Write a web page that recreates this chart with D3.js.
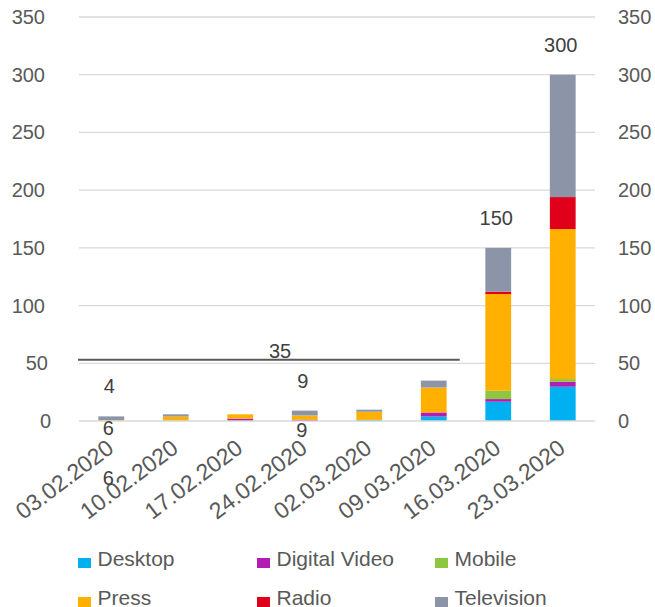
<!DOCTYPE html>
<html>
<head>
<meta charset="utf-8">
<script src="https://cdn.jsdelivr.net/npm/d3@7"></script>
<style>
  html, body { margin: 0; padding: 0; background: #ffffff; }
  svg { display: block; font-family: "Liberation Sans", Arial, sans-serif; }
</style>
</head>
<body>
<svg id="chart" width="655" height="607"></svg>
<script>
// Weekly categories
const categories = ["03.02.2020", "10.02.2020", "17.02.2020", "24.02.2020",
                    "02.03.2020", "09.03.2020", "16.03.2020", "23.03.2020"];

// Stacked series values (bottom to top)
const desktop      = [0,   0,   0,   0,   1,   3.9,  16.7, 29.7];
const digitalVideo = [0,   0,   2,   1.2, 0,   3.5,  2.3,  4.3];
const mobile       = [0,   0,   0,   0,   0,   0,    7.2,  2.3];
const press        = [0.8, 3.9, 3.8, 3.6, 7,   21.6, 83.8, 130];
const radio        = [0,   0,   0,   0,   0,   0,    2,    27.7];
const television   = [3.2, 1.9, 0,   4.2, 1.8, 6,    38,   106];

const seriesNames  = ["Desktop", "Digital Video", "Mobile", "Press", "Radio", "Television"];
const seriesColors = ["#00b0f0", "#b21eb4", "#8dc63f", "#ffb000", "#e0001b", "#8c95a8"];

// Total labels shown above selected bars
const totalLabels = [4, null, null, 9, null, 35, 150, 300];

// Value axis ticks
const yTicks = [0, 50, 100, 150, 200, 250, 300, 350];

// Horizontal marker line value
const markerValue = 53;

const svg = d3.select("#chart");
const plotLeft = 79, plotRight = 595, plotTop = 17, plotBottom = 421;

const x = d3.scaleBand().domain(categories).range([plotLeft, plotRight])
  .paddingInner(0.6).paddingOuter(0.3);
const y = d3.scaleLinear().domain([0, 350]).range([plotBottom, plotTop]);

// Gridlines
svg.append("g").selectAll("line").data(yTicks.filter(d => d > 0)).join("line")
  .attr("x1", plotLeft).attr("x2", plotRight)
  .attr("y1", d => y(d)).attr("y2", d => y(d))
  .attr("stroke", "#d9d9d9").attr("stroke-width", 1.3);

// Left and right axis labels
const tickStyle = sel => sel.attr("font-size", 20).attr("fill", "#595959")
  .attr("dominant-baseline", "central");
svg.append("g").selectAll("text").data(yTicks).join("text")
  .attr("x", d => 45 + (3 - String(d).length) * 3).attr("y", d => y(d)).attr("text-anchor", "end")
  .text(d => d).call(tickStyle);
svg.append("g").selectAll("text").data(yTicks).join("text")
  .attr("x", 618).attr("y", d => y(d)).attr("text-anchor", "start")
  .text(d => d).call(tickStyle);

// Stacked bars
const rows = categories.map((c, i) => ({
  cat: c,
  "Desktop": desktop[i], "Digital Video": digitalVideo[i], "Mobile": mobile[i],
  "Press": press[i], "Radio": radio[i], "Television": television[i]
}));
const stacked = d3.stack().keys(seriesNames)(rows);
svg.append("g").selectAll("g").data(stacked).join("g")
  .attr("fill", (d, i) => seriesColors[i])
  .selectAll("rect").data(d => d).join("rect")
  .attr("x", d => x(d.data.cat))
  .attr("width", x.bandwidth())
  .attr("y", d => y(d[1]))
  .attr("height", d => Math.max(0, y(d[0]) - y(d[1])));

// Category axis line
svg.append("line")
  .attr("x1", plotLeft).attr("x2", plotRight).attr("y1", plotBottom).attr("y2", plotBottom)
  .attr("stroke", "#d9d9d9").attr("stroke-width", 1.5);

// Rotated category labels
svg.append("g").selectAll("text").data(categories).join("text")
  .attr("transform", d => `translate(${x(d) + x.bandwidth() / 2 + 4},${plotBottom + 30}) rotate(-37)`)
  .attr("text-anchor", "end")
  .attr("font-size", 23).attr("fill", "#595959")
  .text(d => d);

// Marker line
svg.append("line")
  .attr("x1", 78).attr("x2", x(categories[5]) + x.bandwidth() / 2 + 26)
  .attr("y1", y(markerValue)).attr("y2", y(markerValue))
  .attr("stroke", "#595959").attr("stroke-width", 2);

// Total labels
const labelStyle = sel => sel.attr("font-size", 20).attr("fill", "#404040")
  .attr("text-anchor", "middle").attr("dominant-baseline", "central");
const labelData = categories.map((c, i) => ({ c, i, v: totalLabels[i] })).filter(d => d.v !== null);
svg.append("g").selectAll("text").data(labelData).join("text")
  .attr("x", d => d.v === 35 ? 280 : x(d.c) + x.bandwidth() / 2 - 2)
  .attr("y", d => y(d.v) - 30)
  .text(d => d.v).call(labelStyle);

// Secondary labels beneath the axis
const extra = [
  { text: "6", cat: categories[0], dy: 7 },
  { text: "6", cat: categories[0], dy: 57 },
  { text: "9", cat: categories[3], dy: 9 }
];
svg.append("g").selectAll("text").data(extra).join("text")
  .attr("x", d => x(d.cat) + x.bandwidth() / 2 - 3)
  .attr("y", d => plotBottom + d.dy)
  .text(d => d.text).call(labelStyle);

// Legend
const legend = svg.append("g");
const legX = [78, 257, 435], legY = [558, 597];
seriesNames.forEach((name, i) => {
  const lx = legX[i % 3], ly = legY[Math.floor(i / 3)];
  legend.append("rect").attr("x", lx).attr("y", ly).attr("width", 13).attr("height", 10)
    .attr("fill", seriesColors[i]);
  legend.append("text").attr("x", lx + 19.5).attr("y", ly)
    .attr("dominant-baseline", "central")
    .attr("font-size", 21).attr("fill", "#595959").text(name);
});
</script>
</body>
</html>
